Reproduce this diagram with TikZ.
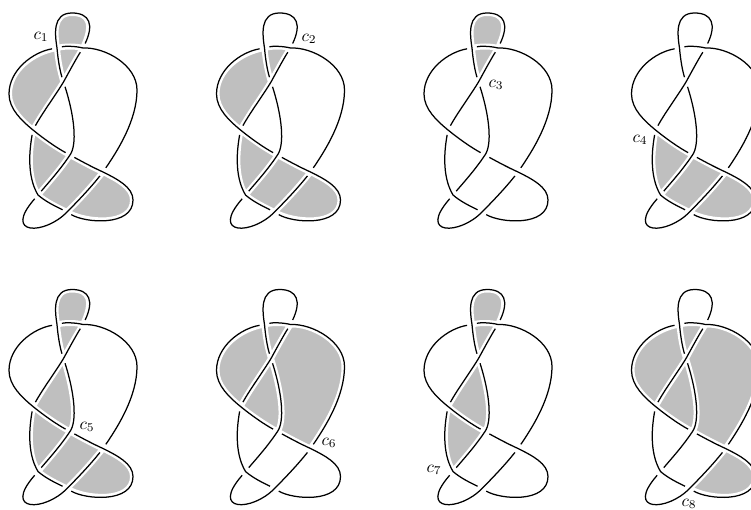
\documentclass[tikz,border=0pt]{standalone}
\definecolor{regiongray}{gray}{0.75}
\newcommand\defarc[5]{%
  \expandafter\def\csname F#1\endcsname{.. controls #3 and #4 .. #5}%
  \expandafter\def\csname R#1\endcsname{.. controls #4 and #3 .. #2}}
\newcommand\FA[1]{\csname F#1\endcsname}
\newcommand\RA[1]{\csname R#1\endcsname}
\newcommand\XA{(83,48)}\newcommand\XB{(57,48)}\newcommand\XC{(63.5,82)}
\newcommand\XD{(33,130)}\newcommand\XE{(70,155)}\newcommand\XF{(103,172)}
\newcommand\XG{(67,212)}\newcommand\XH{(38,195)}
\defarc{a}{\XA}{(76,59)}{(69,72)}{\XC}
\defarc{b}{\XC}{(55,96)}{(43,112)}{\XD}
\defarc{c}{\XD}{(30,147)}{(26,175)}{\XH}
\defarc{d}{\XH}{(46,202)}{(57,207)}{\XG}
\defarc{e}{\XG}{(85,223)}{(133,227)}{(133,200)}
\defarc{f}{(133,200)}{(133,187)}{(117,179)}{\XF}
\defarc{g}{\XF}{(92,167)}{(81,161)}{\XE}
\defarc{h}{\XE}{(57,148)}{(44,139)}{\XD}
\defarc{i}{\XD}{(22,121)}{(9,109)}{(9,94)}
\defarc{j}{(9,94)}{(9,70)}{(33,52)}{\XB}
\defarc{k}{\XB}{(65,46)}{(75,46)}{\XA}
\defarc{l}{\XA}{(105,47)}{(137,65)}{(137,90)}
\defarc{m}{(137,90)}{(137,120)}{(118,150)}{\XF}
\defarc{n}{\XF}{(92,186)}{(80,199)}{\XG}
\defarc{o}{\XG}{(45,235)}{(2,236)}{\XH}
\defarc{p}{\XH}{(49,182)}{(60,170)}{\XE}
\defarc{q}{\XE}{(77,145)}{(75,118)}{\XC}
\defarc{r}{\XC}{(60,71)}{(58,60)}{\XB}
\defarc{s}{\XB}{(55,35)}{(52,13)}{(72,13)}
\defarc{t}{(72,13)}{(90,13)}{(94,25)}{\XA}
% regions
\newcommand\regLoop{\XB \FA{s} \FA{t} \RA{k} -- cycle}
\newcommand\regTri{\XB \FA{k} \FA{a} \FA{r} -- cycle}
\newcommand\regLeft{\XD \FA{i} \FA{j} \RA{r} \FA{b} -- cycle}
\newcommand\regCent{\XC \FA{b} \RA{h} \FA{q} -- cycle}
\newcommand\regBig{\XA \FA{a} \RA{q} \RA{g} \RA{m} \RA{l} -- cycle}
\newcommand\regLow{\XD \FA{c} \FA{p} \FA{h} -- cycle}
\newcommand\regMid{\XH \FA{p} \RA{g} \FA{n} \RA{d} -- cycle}
\newcommand\regLobe{\XG \FA{e} \FA{f} \FA{n} -- cycle}
\tikzset{
  knotline/.style={line width=1.25pt,black,shorten <=5pt,shorten >=5pt},
  halo/.style={line width=6pt,white},
  lab/.style={inner sep=0pt,scale=1.7},
}
\newcommand\knotdiagram[3]{% x, y, list of regions
  \begin{scope}[shift={(#1,#2)}]
    \foreach \r in {#3}{\fill[regiongray] \csname reg\r\endcsname;}
    \draw[halo,line join=round] \XA \FA{a}\FA{b}\FA{c}\FA{d}\FA{e}\FA{f}\FA{g}\FA{h}\FA{i}\FA{j}\FA{k}\FA{l}\FA{m}\FA{n}\FA{o}\FA{p}\FA{q}\FA{r}\FA{s}\FA{t} -- cycle;
    \draw[knotline] \XA \FA{a}\FA{b};
    \draw[knotline] \XD \FA{c}\FA{d};
    \draw[knotline] \XG \FA{e}\FA{f}\FA{g};
    \draw[knotline] \XE \FA{h}\FA{i}\FA{j};
    \draw[knotline] \XB \FA{k}\FA{l}\FA{m};
    \draw[knotline] \XF \FA{n}\FA{o};
    \draw[knotline] \XH \FA{p}\FA{q};
    \draw[knotline] \XC \FA{r}\FA{s}\FA{t};
  \end{scope}}
\begin{document}
\begin{tikzpicture}[x=1pt,y=-1pt]
\useasboundingbox (0,0) rectangle (751,510);
\clip (0,0) rectangle (751,510);
\knotdiagram{0}{0}{Loop,Tri,Left,Low,Mid,Lobe}
\knotdiagram{207.5}{0}{Tri,Left,Low,Mid,Lobe}
\knotdiagram{415}{0}{Loop,Tri}
\knotdiagram{622.5}{0}{Low,Mid,Lobe}
\knotdiagram{0}{276.5}{Loop,Tri,Cent,Low,Mid,Lobe}
\knotdiagram{207.5}{276.5}{Tri,Left,Cent,Big}
\knotdiagram{415}{276.5}{Loop,Tri,Cent,Low}
\knotdiagram{622.5}{276.5}{Tri,Left,Cent,Big,Lobe}
\node[lab] (l1) at (41,37) {$c_1$};
\node[lab] (l2) at (309,39) {$c_2$};
\node[lab] (l3) at (496,85) {$c_3$};
\node[lab] (l4) at (640,140) {$c_4$};
\node[lab] (l5) at (87,427) {$c_5$};
\node[lab] (l6) at (329,443) {$c_6$};
\node[lab] (l7) at (434,470) {$c_7$};
\node[lab] (l8) at (689,504) {$c_8$};
\end{tikzpicture}
\end{document}
